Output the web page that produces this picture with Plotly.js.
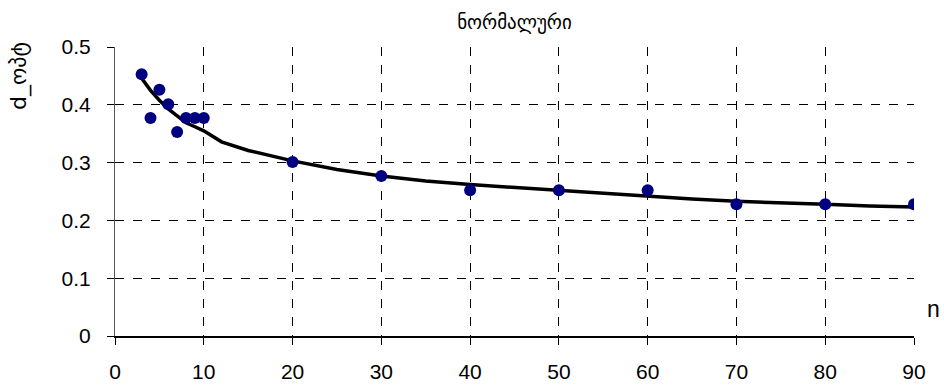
<!DOCTYPE html>
<html>
<head>
<meta charset="utf-8">
<script src="https://cdn.plot.ly/plotly-3.0.1.min.js"></script>
<style>html,body{margin:0;padding:0;background:#fff;}#chart{width:944px;height:385px;}</style>
</head>
<body>
<div id="chart"></div>
<script>
// Observed points
const pointN = [3, 4, 5, 6, 7, 8, 9, 10, 20, 30, 40, 50, 60, 70, 80, 90];
const pointD = [0.453, 0.377, 0.426, 0.401, 0.353, 0.377, 0.377, 0.377, 0.301, 0.277, 0.252, 0.252, 0.252, 0.228, 0.228, 0.228];
// Fitted curve
const curveN = [3, 4, 5, 6, 7, 8, 9, 10, 12, 15, 20, 25, 30, 35, 40, 45, 50, 55, 60, 65, 70, 75, 80, 85, 90];
const curveD = [0.446, 0.425, 0.408, 0.393, 0.381, 0.369, 0.362, 0.355, 0.336, 0.321, 0.303, 0.288, 0.277, 0.268, 0.262, 0.257, 0.251, 0.246, 0.241, 0.237, 0.233, 0.231, 0.228, 0.225, 0.223];
const xTicks = [0, 10, 20, 30, 40, 50, 60, 70, 80, 90];
const yTicks = [0, 0.1, 0.2, 0.3, 0.4, 0.5];
const yTickText = ['0', '0.1', '0.2', '0.3', '0.4', '0.5'];

const traces = [
  {x: curveN, y: curveD, mode: 'lines', type: 'scatter', line: {color: '#000000', width: 3.5}, hoverinfo: 'none'},
  {x: pointN, y: pointD, mode: 'markers', type: 'scatter', marker: {color: '#000080', size: 12}, hoverinfo: 'none'}
];

const layout = {
  width: 944, height: 385,
  margin: {l: 115, r: 30, t: 47, b: 49},
  paper_bgcolor: '#ffffff', plot_bgcolor: '#ffffff',
  showlegend: false,
  font: {family: 'Liberation Sans, Arial, sans-serif', color: '#000000', size: 20},
  title: {text: 'ნორმალური', font: {family: 'DejaVu Sans, sans-serif', size: 19, color: '#000'}, x: 0.5, xref: 'paper', y: 0.943, yref: 'container', yanchor: 'middle'},
  xaxis: {
    range: [0, 90], tickvals: xTicks, ticktext: xTicks.map(String),
    showgrid: true, gridcolor: '#000000', griddash: 'dash', gridwidth: 1,
    zeroline: false, showline: true, linecolor: '#000000', linewidth: 1.5,
    ticks: 'outside', ticklen: 7, tickcolor: '#000', tickwidth: 1,
    ticklabelstandoff: 9,
    tickfont: {size: 21}, fixedrange: true
  },
  yaxis: {
    range: [0, 0.5], tickvals: yTicks, ticktext: yTickText,
    showgrid: true, gridcolor: '#000000', griddash: 'dash', gridwidth: 1,
    zeroline: false, showline: true, linecolor: '#555555', linewidth: 1,
    ticks: 'outside', ticklen: 7, tickcolor: '#000', tickwidth: 1,
    ticklabelstandoff: 12,
    tickfont: {size: 21}, fixedrange: true
  },
  annotations: [
    {text: 'd_ოპტ', xref: 'paper', yref: 'paper', x: -0.120, y: 0.90, textangle: -90, showarrow: false,
     font: {family: 'DejaVu Sans, sans-serif', size: 22, color: '#000'}, xanchor: 'center', yanchor: 'middle'},
    {text: 'n', xref: 'paper', yref: 'paper', x: 1.024, y: 0.095, showarrow: false,
     font: {size: 23, color: '#000'}, xanchor: 'center', yanchor: 'middle'}
  ]
};

Plotly.newPlot('chart', traces, layout, {staticPlot: true, displayModeBar: false});
</script>
</body>
</html>
